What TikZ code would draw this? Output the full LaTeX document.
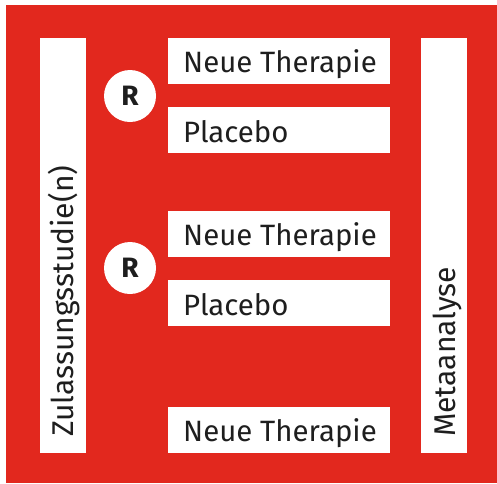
\documentclass[tikz,border=0pt]{standalone}
\usepackage{fontspec}
\setmainfont{Fira Sans}
\definecolor{bgred}{HTML}{E2281E}
\definecolor{ink}{HTML}{1E1E1E}
\newcommand{\randmark}{{\bfseries\fontsize{28}{30}\selectfont R}}
\begin{document}
\begin{tikzpicture}[x=1pt,y=-1pt,
  armbox/.style={fill=white, anchor=north west, minimum width=222pt, minimum height=46pt, inner sep=0pt},
  armtext/.style={anchor=base west, inner sep=0pt, font=\fontsize{29.4}{32}\selectfont, text=ink},
  sidebar/.style={fill=white, anchor=north west, minimum width=46pt, minimum height=415pt, inner sep=0pt},
  sidetext/.style={rotate=90, anchor=base west, inner sep=0pt, font=\fontsize{30}{32}\selectfont, text=ink},
  randnode/.style={circle, fill=white, minimum size=52pt, inner sep=0pt, text=ink}]
\useasboundingbox (0,0) rectangle (497,483);
\fill[bgred] (6,5) rectangle (497,483);
% side bars
\node[sidebar] (zul) at (40,38) {};
\node[sidebar] (meta) at (421,38) {};
\node[sidetext] (zultext) at (73,437) {Zulassungsstudie(n)};
\node[sidetext] (metatext) at (455,437) {Metaanalyse};
% first study
\node[randnode] (r1) at (130,96) {\randmark};
\node[armbox] (t1) at (168,38) {};
\node[armtext] (t1txt) at (183,72) {Neue Therapie};
\node[armbox] (p1) at (168,107) {};
\node[armtext] (p1txt) at (183,142) {Placebo};
% second study
\node[randnode] (r2) at (130,268) {\randmark};
\node[armbox] (t2) at (168,211) {};
\node[armtext] (t2txt) at (183,245) {Neue Therapie};
\node[armbox] (p2) at (168,280) {};
\node[armtext] (p2txt) at (183,315) {Placebo};
% single arm
\node[armbox] (t3) at (168,407) {};
\node[armtext] (t3txt) at (183,441) {Neue Therapie};
\end{tikzpicture}
\end{document}
